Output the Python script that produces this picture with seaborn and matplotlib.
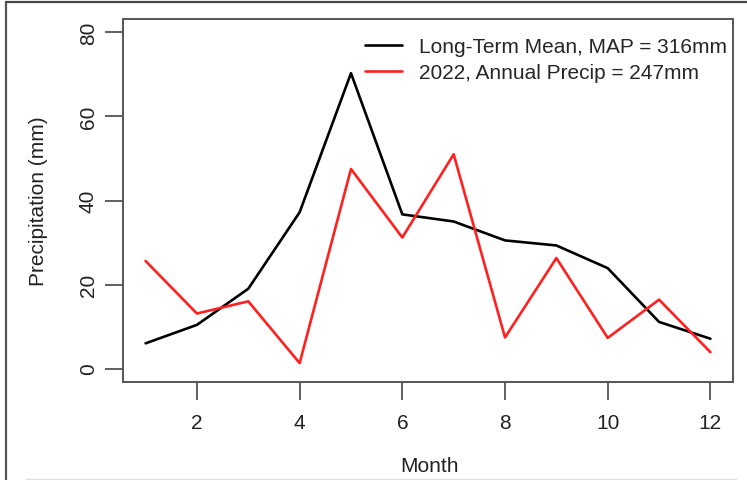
import matplotlib
matplotlib.use("Agg")
import matplotlib.pyplot as plt
from matplotlib.lines import Line2D
import seaborn as sns
import pandas as pd

months = [1, 2, 3, 4, 5, 6, 7, 8, 9, 10, 11, 12]
long_term_mean = [6.0, 10.4, 19.0, 37.2, 70.3, 36.7, 35.0, 30.5, 29.3, 23.9, 11.1, 7.1]
precip_2022 = [25.6, 13.1, 16.0, 1.3, 47.5, 31.2, 51.0, 7.4, 26.3, 7.3, 16.4, 3.9]
series_labels = ["Long-Term Mean, MAP = 316mm", "2022, Annual Precip = 247mm"]
series_colors = ["black", "#FF2020"]
x_ticks = [2, 4, 6, 8, 10, 12]
y_ticks = [0, 20, 40, 60, 80]

sns.set_theme(style="white")
plt.rcParams["font.family"] = ["Liberation Sans", "DejaVu Sans"]

df = pd.DataFrame({
    "Month": months * 2,
    "Precip": long_term_mean + precip_2022,
    "Series": [series_labels[0]] * 12 + [series_labels[1]] * 12,
})

FS = 15

fig = plt.figure(figsize=(7.47, 4.81), dpi=100)
ax = fig.add_axes([123 / 747, 1 - 383 / 481, (733 - 123) / 747, (383 - 20) / 481])

sns.lineplot(data=df, x="Month", y="Precip", hue="Series",
             palette=dict(zip(series_labels, series_colors)),
             linewidth=1.9, ax=ax, legend=False)

ax.set_xlim(0.56, 12.44)
ax.set_ylim(-3.2, 83.2)
ax.set_xticks(x_ticks)
ax.set_yticks(y_ticks)
ax.set_xticklabels([str(t) for t in x_ticks], fontsize=FS, color="#222222")
ax.set_yticklabels([str(t) for t in y_ticks], fontsize=FS, color="#222222",
                   rotation=90, va="center")
ax.tick_params(axis="both", which="major", length=13, width=1.2, color="#444444",
               direction="out", bottom=True, left=True)
ax.tick_params(axis="x", pad=9)
ax.tick_params(axis="y", pad=5)
for s in ax.spines.values():
    s.set_visible(True)
    s.set_color("#555555")
    s.set_linewidth(1.4)

ax.set_xlabel("Month", fontsize=FS, color="#222222", va="center")
ax.set_ylabel("Precipitation (mm)", fontsize=FS, color="#222222", va="center")
ax.xaxis.set_label_coords((430 - 123) / 610, -(467 - 383) / 363)
ax.yaxis.set_label_coords(-(123 - 38) / 610, 0.5)

handles = [Line2D([0], [0], color=c, lw=1.9) for c in series_colors]
ax.legend(handles, series_labels, loc="upper right", frameon=False,
          fontsize=FS, handlelength=1.8, handletextpad=0.8,
          labelspacing=0.35, borderaxespad=0.0, bbox_to_anchor=(1.004, 0.973))

# screenshot frame
fig.add_artist(Line2D([6 / 747, 6 / 747], [0, 1 - 3 / 481], transform=fig.transFigure,
                      color="#555555", lw=1.6))
fig.add_artist(Line2D([6 / 747, 1], [1 - 3 / 481, 1 - 3 / 481], transform=fig.transFigure,
                      color="#444444", lw=1.6))
fig.add_artist(Line2D([26 / 747, 736 / 747], [1 - 480 / 481, 1 - 480 / 481],
                      transform=fig.transFigure, color="#dddddd", lw=1.0))

fig.savefig("out.png", dpi=100)
